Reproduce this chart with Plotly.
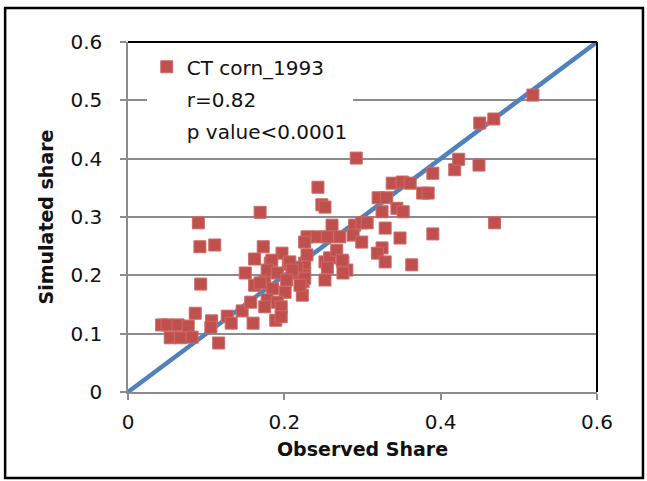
import plotly.graph_objects as go

# Observed share (x) and simulated share (y)
observed = [0.043, 0.050, 0.064, 0.077, 0.054, 0.067, 0.082, 0.086, 0.107, 0.106,
            0.116, 0.127, 0.132, 0.146, 0.160, 0.157, 0.150, 0.162, 0.173, 0.092,
            0.111, 0.093, 0.090, 0.169, 0.182, 0.197, 0.205, 0.162, 0.175, 0.185,
            0.201, 0.178, 0.191, 0.175, 0.196, 0.189, 0.196, 0.223, 0.224, 0.226,
            0.226, 0.229, 0.229, 0.242, 0.211, 0.216, 0.243, 0.248, 0.252, 0.261,
            0.271, 0.255, 0.226, 0.290, 0.299, 0.306, 0.288, 0.299, 0.320, 0.331,
            0.338, 0.351, 0.361, 0.325, 0.344, 0.352, 0.329, 0.348, 0.325, 0.319,
            0.329, 0.363, 0.377, 0.384, 0.390, 0.418, 0.423, 0.449, 0.450, 0.468,
            0.518, 0.390, 0.469, 0.292, 0.184, 0.207, 0.178, 0.191, 0.210, 0.252,
            0.258, 0.267, 0.275, 0.280, 0.255, 0.226, 0.252, 0.275, 0.169, 0.203,
            0.220, 0.274]
simulated = [0.115, 0.115, 0.115, 0.113, 0.093, 0.093, 0.094, 0.135, 0.122, 0.111,
             0.084, 0.130, 0.118, 0.139, 0.118, 0.154, 0.204, 0.228, 0.249, 0.249,
             0.252, 0.185, 0.290, 0.308, 0.221, 0.238, 0.219, 0.183, 0.189, 0.177,
             0.171, 0.158, 0.154, 0.146, 0.146, 0.123, 0.129, 0.166, 0.189, 0.204,
             0.221, 0.235, 0.266, 0.266, 0.204, 0.214, 0.351, 0.321, 0.317, 0.286,
             0.266, 0.266, 0.257, 0.286, 0.290, 0.290, 0.269, 0.257, 0.333, 0.333,
             0.358, 0.360, 0.358, 0.309, 0.315, 0.309, 0.281, 0.264, 0.247, 0.238,
             0.223, 0.218, 0.341, 0.341, 0.375, 0.381, 0.399, 0.389, 0.461, 0.468,
             0.509, 0.271, 0.290, 0.401, 0.226, 0.223, 0.209, 0.204, 0.209, 0.223,
             0.230, 0.243, 0.223, 0.209, 0.213, 0.195, 0.192, 0.204, 0.187, 0.192,
             0.183, 0.226]

line_x = [0, 0.6]
line_y = [0, 0.6]

series_name = "CT corn_1993"
stat_labels = ["r=0.82", "p value<0.0001"]
x_ticks = [0, 0.2, 0.4, 0.6]
x_tick_text = ["0", "0.2", "0.4", "0.6"]
y_ticks = [0, 0.1, 0.2, 0.3, 0.4, 0.5, 0.6]
y_tick_text = ["0", "0.1", "0.2", "0.3", "0.4", "0.5", "0.6"]

FONT = "DejaVu Sans"
GRID = "#8c8c8c"
TXT = "#111111"

fig = go.Figure()
fig.add_trace(go.Scatter(x=line_x, y=line_y, mode="lines",
                         line=dict(color="#4F81BD", width=4.5),
                         showlegend=False, hoverinfo="skip"))
fig.add_trace(go.Scatter(x=observed, y=simulated, mode="markers", name=series_name,
                         legendgroup="a",
                         marker=dict(symbol="square", size=12, color="#C0504D",
                                     line=dict(color="#CD6A67", width=1))))
for i, lab in enumerate(stat_labels):
    fig.add_trace(go.Scatter(x=[None], y=[None], mode="markers", name=lab,
                             legendgroup="s%d" % i,
                             marker=dict(symbol="square", size=12,
                                         color="rgba(0,0,0,0)")))

fig.update_layout(
    width=647, height=481,
    margin=dict(l=128, r=50, t=42, b=89),
    paper_bgcolor="white", plot_bgcolor="white",
    font=dict(family=FONT, size=20, color=TXT),
    legend=dict(x=0.04, y=0.985, xanchor="left", yanchor="top",
                bgcolor="white", traceorder="grouped", tracegroupgap=3,
                font=dict(family=FONT, size=20, color=TXT),
                itemwidth=30),
    xaxis=dict(range=[0, 0.6], tickvals=x_ticks, ticktext=x_tick_text,
               showgrid=False, zeroline=False, showline=True, linecolor=GRID,
               linewidth=1.5, ticks="outside", ticklen=6, tickcolor=GRID,
               tickwidth=1.5, ticklabelstandoff=5,
               tickfont=dict(family=FONT, size=20, color=TXT),
               title=dict(text="<b>Observed Share</b>", standoff=10,
                          font=dict(family=FONT, size=19, color=TXT))),
    yaxis=dict(range=[0, 0.6], tickvals=y_ticks, ticktext=y_tick_text,
               showgrid=True, gridcolor=GRID, gridwidth=1.5, zeroline=False,
               showline=True, linecolor=GRID, linewidth=1.5, ticks="outside",
               ticklen=6, tickcolor=GRID, tickwidth=1.5, ticklabelstandoff=14,
               tickfont=dict(family=FONT, size=20, color=TXT),
               title=dict(text="<b>Simulated share</b>", standoff=12,
                          font=dict(family=FONT, size=19, color=TXT))),
    shapes=[
        dict(type="line", xref="paper", yref="paper", x0=0, x1=1, y0=1, y1=1,
             line=dict(color="black", width=2)),
        dict(type="line", xref="paper", yref="paper", x0=1, x1=1, y0=0, y1=1,
             line=dict(color="black", width=2)),
        dict(type="rect", xref="paper", yref="paper", x0=-0.262, x1=1.098,
             y0=-0.246, y1=1.097, line=dict(color="black", width=2.5),
             layer="below"),
    ],
)

fig.write_html("out.html", config={"displayModeBar": False},
               post_script="document.body.style.margin='0';")
